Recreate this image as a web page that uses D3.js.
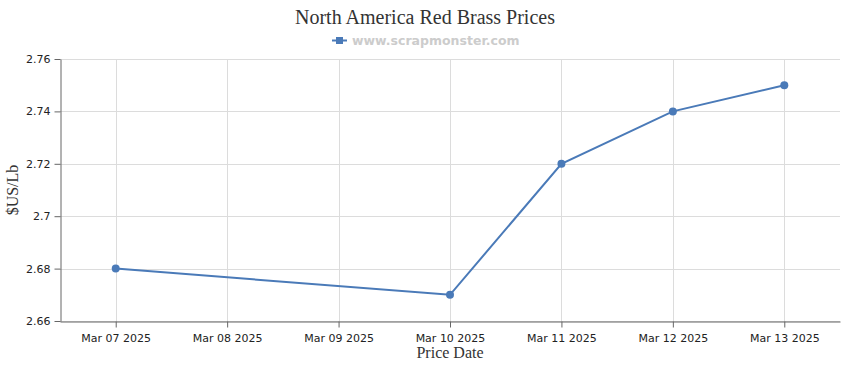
<!DOCTYPE html>
<html><head><meta charset="utf-8">
<script src="https://cdn.jsdelivr.net/npm/d3@7"></script>
<style>body{margin:0;background:#fff}svg{display:block}</style>
</head><body>
<script>
const categories = ["Mar 07 2025","Mar 08 2025","Mar 09 2025","Mar 10 2025","Mar 11 2025","Mar 12 2025","Mar 13 2025"];
const values = [2.68, null, null, 2.67, 2.72, 2.74, 2.75];
const yTicks = [2.66, 2.68, 2.7, 2.72, 2.74, 2.76];
const seriesName = "www.scrapmonster.com";
const title = "North America Red Brass Prices";

const W = 850, H = 370;
const m = {left: 60, right: 10, top: 59, bottom: 49};
const svg = d3.select("body").append("svg").attr("width", W).attr("height", H);

const x = d3.scalePoint().domain(categories).range([m.left, W - m.right]).padding(0.5);
const y = d3.scaleLinear().domain([2.66, 2.76]).range([H - m.bottom, m.top]);

// grid
svg.append("g").selectAll("line").data(yTicks).join("line")
  .attr("x1", m.left).attr("x2", W - m.right)
  .attr("y1", d => Math.round(y(d)) + 0.5).attr("y2", d => Math.round(y(d)) + 0.5)
  .attr("stroke", "#dcdcdc").attr("stroke-width", 1);
svg.append("g").selectAll("line").data(categories).join("line")
  .attr("x1", d => Math.round(x(d)) + 0.5).attr("x2", d => Math.round(x(d)) + 0.5)
  .attr("y1", m.top).attr("y2", H - m.bottom)
  .attr("stroke", "#dcdcdc").attr("stroke-width", 1);

// axes
const tickFont = "'DejaVu Sans', Verdana, sans-serif";
const serif = "'Liberation Serif', 'Times New Roman', serif";
const yAxis = svg.append("g").attr("transform", `translate(${m.left + 0.5},0)`)
  .call(d3.axisLeft(y).tickValues(yTicks).tickSize(6).tickSizeOuter(0).tickFormat(d => String(+d.toFixed(2))));
const xAxis = svg.append("g").attr("transform", `translate(0,${Math.round(H - m.bottom) + 0.5})`)
  .call(d3.axisBottom(x).tickSize(6).tickSizeOuter(0));
[yAxis, xAxis].forEach(a => {
  a.select(".domain").attr("stroke", "#666");
  a.selectAll(".tick line").attr("stroke", "#666");
  a.selectAll("text").attr("fill", "#222").style("font-family", tickFont).style("font-size", "11px");
});
yAxis.selectAll("text").attr("x", -10);
xAxis.selectAll("text").attr("y", 13);

// line
const pts = categories.map((c, i) => ({c, v: values[i]})).filter(d => d.v != null);
svg.append("path").datum(pts)
  .attr("fill", "none").attr("stroke", "#4a7ab8").attr("stroke-width", 2)
  .attr("d", d3.line().x(d => x(d.c)).y(d => y(d.v)));
svg.append("g").selectAll("circle").data(pts).join("circle")
  .attr("cx", d => x(d.c)).attr("cy", d => y(d.v)).attr("r", 4)
  .attr("fill", "#4a7ab8");

// title
svg.append("text").attr("x", 425).attr("y", 24).attr("text-anchor", "middle")
  .style("font-family", serif).style("font-size", "20px")
  .attr("fill", "#333").text(title);

// legend
const lg = svg.append("g");
lg.append("line").attr("x1", 332).attr("x2", 347).attr("y1", 40.5).attr("y2", 40.5)
  .attr("stroke", "#4a7ab8").attr("stroke-width", 2);
lg.append("rect").attr("x", 336).attr("y", 37).attr("width", 7).attr("height", 7).attr("fill", "#4a7ab8");
lg.append("text").attr("x", 352).attr("y", 45)
  .style("font-family", tickFont).style("font-size", "12.5px").style("font-weight", "bold")
  .attr("fill", "#cccccc").text(seriesName);

// axis titles
svg.append("text").attr("x", (m.left + W - m.right) / 2).attr("y", 358).attr("text-anchor", "middle")
  .style("font-family", serif).style("font-size", "16px")
  .attr("fill", "#333").text("Price Date");
svg.append("text").attr("transform", `translate(18,${(m.top + H - m.bottom) / 2}) rotate(-90)`)
  .attr("text-anchor", "middle")
  .style("font-family", serif).style("font-size", "16px")
  .attr("fill", "#333").text("$US/Lb");
</script>
</body></html>
